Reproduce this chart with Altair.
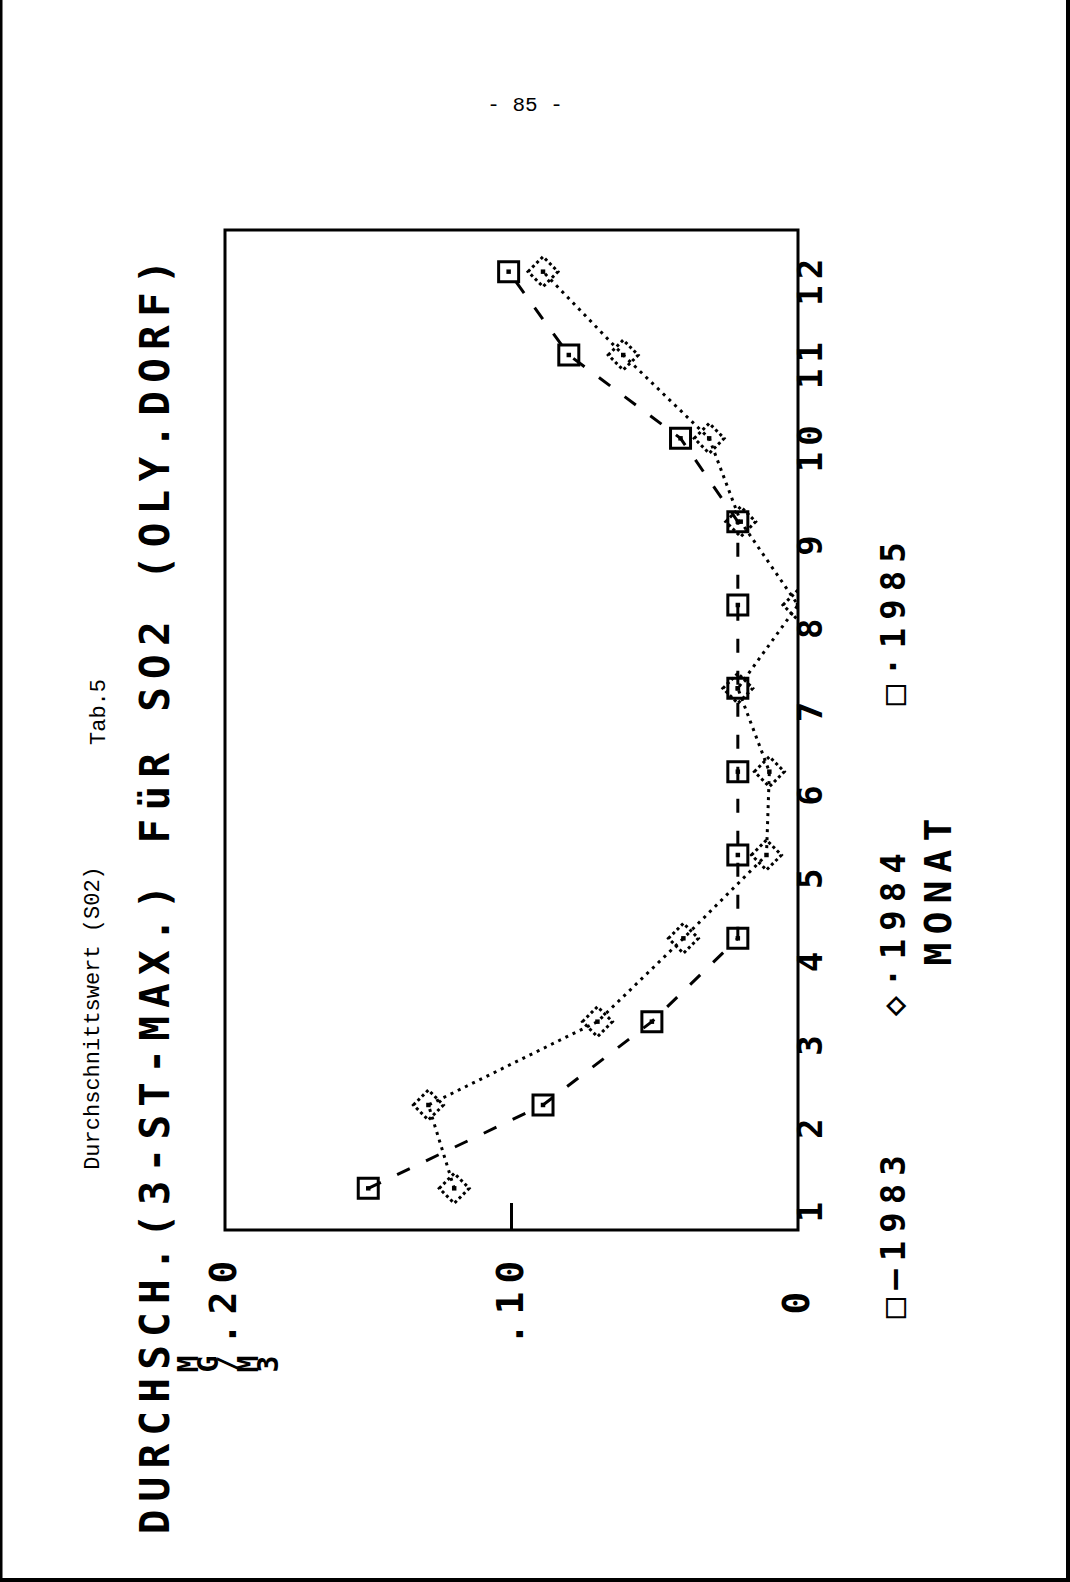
import altair as alt
import pandas as pd

# ---------------- data ----------------
MONTHS = [1, 2, 3, 4, 5, 6, 7, 8, 9, 10, 11, 12]
MONTH_LABELS = ["1", "2", "3", "4", "5", "6", "7", "8", "9", "10", "11", "12"]
Y1983 = [0.150, 0.089, 0.051, 0.021, 0.021, 0.021, 0.021, 0.021, 0.021, 0.041, 0.080, 0.101]
Y1984 = [0.120, 0.129, 0.070, 0.040, 0.011, 0.010, 0.021, 0.000, 0.020, 0.031, 0.061, 0.089]
Y1985 = []  # no values plotted for 1985
VALUE_TICKS = [0.0, 0.1, 0.2]
VALUE_LABELS = ["0", ".10", ".20"]
INNER_TICKS = [0.1]
LEGEND = [("\u25a1", "\u2014", "1983"), ("\u25c7", "\u00b7", "1984"), ("\u25a1", "\u00b7", "1985")]
TITLE = "DURCHSCH.(3-ST-MAX.) FüR SO2 (OLY.DORF)"
UNIT = "MG/M3"
X_TITLE = "MONAT"
HEADER = "Durchschnittswert (S02)"
TAB = "Tab.5"
PAGE = "- 85 -"

# ---------------- layout (page pixels) ----------------
PL, PT = 225, 230
W, H = 573, 1000
PAD = {"left": PL, "top": PT, "right": 1070 - PL - W, "bottom": 1582 - PT - H}
MONO = "DejaVu Sans Mono"
TYPE = "Liberation Mono"

rows = []
for m, v in zip(MONTHS, Y1983):
    rows.append({"month": m, "value": v, "year": "1983"})
for m, v in zip(MONTHS, Y1984):
    rows.append({"month": m, "value": v, "year": "1984"})
for m, v in zip(MONTHS, Y1985):
    rows.append({"month": m, "value": v, "year": "1985"})
df = pd.DataFrame(rows)
d83 = df[df.year == "1983"]
d84 = df[df.year == "1984"]

xscale = alt.Scale(domain=[0, 0.2], reverse=True, nice=False, zero=False)
yscale = alt.Scale(domain=[0.5, 12.5], nice=False, zero=False)
xenc = alt.X("value:Q", scale=xscale, axis=None)
yenc = alt.Y("month:Q", scale=yscale, axis=None)

line83 = alt.Chart(d83).mark_line(color="black", strokeWidth=3, strokeDash=[14, 18]).encode(
    x=xenc, y=yenc, order="month:Q")
line84 = alt.Chart(d84).mark_line(color="black", strokeWidth=3, strokeDash=[3, 5]).encode(
    x=xenc, y=yenc, order="month:Q")
pt83 = alt.Chart(d83).mark_point(shape="square", filled=False, size=400, color="black",
                                 strokeWidth=3, opacity=1).encode(x=xenc, y=yenc)
pt83c = alt.Chart(d83).mark_point(shape="square", filled=True, size=20, color="black",
                                  opacity=1).encode(x=xenc, y=yenc)
pt84 = alt.Chart(d84).mark_point(shape="diamond", filled=False, size=900, color="black",
                                 strokeWidth=3, strokeDash=[3, 3], opacity=1, clip=True).encode(x=xenc, y=yenc)
pt84c = alt.Chart(d84).mark_point(shape="square", filled=True, size=20, color="black",
                                  opacity=1, clip=True).encode(x=xenc, y=yenc)

inner_tick = alt.Chart(pd.DataFrame({"value": INNER_TICKS})).mark_rule(
    color="black", strokeWidth=3).encode(x=xenc, y=alt.value(H - 27), y2=alt.value(H))

# month tick labels (rotated, character by character like the dot-matrix print)
mrows = []
for m, lab in zip(MONTHS, MONTH_LABELS):
    for j, ch in enumerate(lab):
        mrows.append({"month": m, "j": j, "ch": ch})
mdf = pd.DataFrame(mrows)
MPITCH = 26.5
month_layers = []
for j in range(2):
    # with angle 270 the text's own x direction points up the page
    month_layers.append(
        alt.Chart(mdf).transform_filter(alt.datum.j == j).mark_text(
            font=MONO, fontSize=34, fontWeight="bold", angle=270, align="center",
            baseline="middle", color="black", dx=(j + 0.5) * MPITCH - 37,
        ).encode(y=yenc, x=alt.value(W + 14), text="ch:N")
    )

# value tick labels, centred on a three-character field
vrows = []
for v, lab in zip(VALUE_TICKS, VALUE_LABELS):
    start = (3 - len(lab)) // 2 + (3 - len(lab)) % 2
    for k, ch in enumerate(reversed(lab)):
        vrows.append({"value": v, "k": k + start, "ch": ch})
vdf = pd.DataFrame(vrows)
VPITCH = 31
value_layers = []
for k in range(3):
    value_layers.append(
        alt.Chart(vdf).transform_filter(alt.datum.k == k).mark_text(
            font=MONO, fontSize=38, fontWeight="bold", angle=270, align="center",
            baseline="middle", color="black",
        ).encode(x=xenc, y=alt.value(H + 42 + k * VPITCH), text="ch:N")
    )


def ch_layer(s, x, y, size, font=MONO, weight="bold", angle=270):
    return alt.Chart(pd.DataFrame({"t": [s]})).mark_text(
        font=font, fontSize=size, fontWeight=weight, angle=angle,
        align="center", baseline="middle", color="black",
    ).encode(text="t:N", x=alt.value(x - PL), y=alt.value(y - PT))


texts = []
# title: characters printed bottom-to-top with a fixed pitch
TP = 32.9
for i, c in enumerate(TITLE):
    if c != " ":
        texts.append(ch_layer(c, 157, 1522 - i * TP, 41))
# unit label: glyphs rotated, laid out left to right
for i, c in enumerate(UNIT):
    texts.append(ch_layer(c, 190 + 20 * i, 1364, 28))
# legend
LPITCH = 28.5
for (mk, sep, yr), bottom in zip(LEGEND, [1322, 1020, 709]):
    s = mk + sep + yr
    for j, c in enumerate(s):
        texts.append(ch_layer(c, 895, bottom - 14 - j * LPITCH, 34))
# axis title MONAT
for j, c in enumerate(X_TITLE):
    texts.append(ch_layer(c, 940, 954 - j * 31, 38))
# typed header lines
texts.append(ch_layer(HEADER, 92, 1018, 22, font=TYPE, weight="normal"))
texts.append(ch_layer(TAB, 98, 712, 22, font=TYPE, weight="normal"))
texts.append(ch_layer(PAGE, 525, 105, 21, font=TYPE, weight="normal", angle=0))

# page border (scan edges)
one = pd.DataFrame({"k": [0]})
border = [
    alt.Chart(one).mark_rule(color="black", strokeWidth=3).encode(
        x=alt.value(1 - PL), y=alt.value(-PT), y2=alt.value(1582 - PT)),
    alt.Chart(one).mark_rule(color="black", strokeWidth=4).encode(
        x=alt.value(1068 - PL), y=alt.value(-PT), y2=alt.value(1582 - PT)),
    alt.Chart(one).mark_rule(color="black", strokeWidth=4).encode(
        x=alt.value(-PL), x2=alt.value(1070 - PL), y=alt.value(1580 - PT)),
]

chart = alt.layer(
    line83, line84, pt83, pt83c, pt84, pt84c, inner_tick,
    *month_layers, *value_layers, *texts, *border,
).properties(
    width=W, height=H, padding=PAD, autosize=alt.AutoSizeParams(type="none"),
    background="white",
).configure_view(stroke="black", strokeWidth=3)

chart.save("out.html", embed_options={"renderer": "svg", "actions": False})
